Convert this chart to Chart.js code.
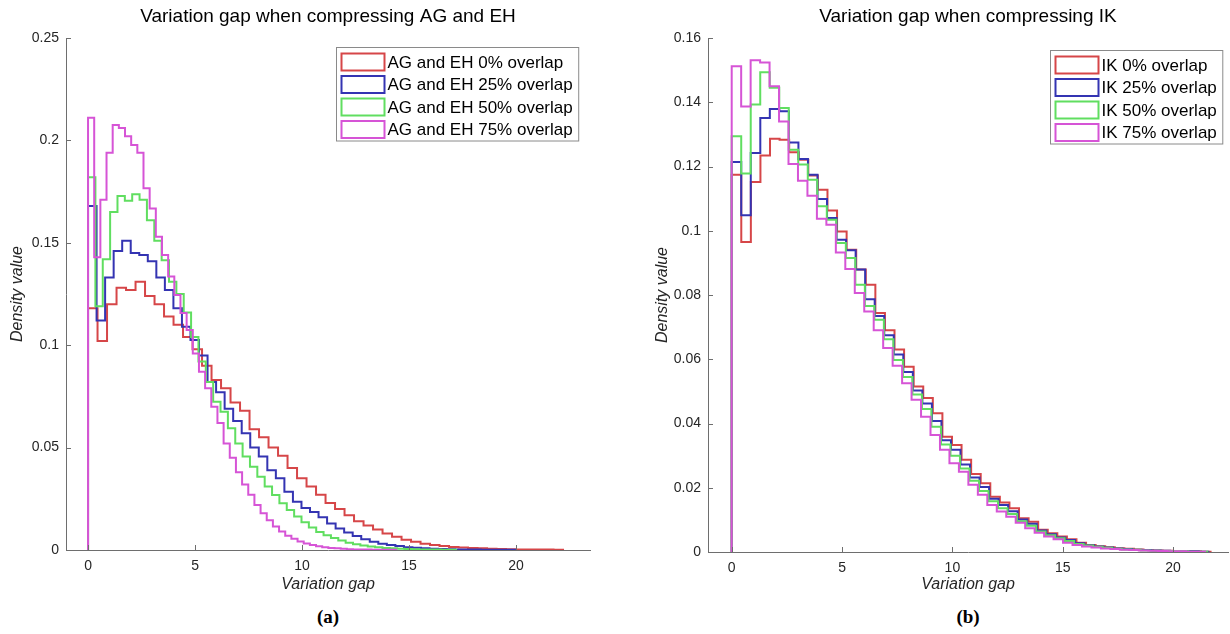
<!DOCTYPE html>
<html><head><meta charset="utf-8">
<script src="https://cdn.jsdelivr.net/npm/chart.js@4.4.1/dist/chart.umd.min.js"></script>
<style>
body{margin:0;background:#fff;width:1230px;height:634px;position:relative;overflow:hidden}
canvas{position:absolute;top:0}
#ca{left:0}
#cb{left:615px}
.sub{position:absolute;top:606px;width:100px;text-align:center;font:bold 19px 'Liberation Serif','Times New Roman',serif;color:#000}
</style>
</head><body>
<canvas id="ca" width="615" height="600"></canvas>
<canvas id="cb" width="615" height="600"></canvas>
<div class="sub" style="left:278px">(a)</div>
<div class="sub" style="left:918px">(b)</div>
<script>
// ---------- data ----------
const xTicks = [0, 5, 10, 15, 20];
const agYTicks = [0, 0.05, 0.1, 0.15, 0.2, 0.25];
const ikYTicks = [0, 0.02, 0.04, 0.06, 0.08, 0.1, 0.12, 0.14, 0.16];

const agLabels = ['AG and EH 0% overlap', 'AG and EH 25% overlap', 'AG and EH 50% overlap', 'AG and EH 75% overlap'];
const ikLabels = ['IK 0% overlap', 'IK 25% overlap', 'IK 50% overlap', 'IK 75% overlap'];

// upper end of the 50 histogram bins of each series (bins start at 0)
const agMaxGap = [22.2, 19.95, 17.2, 14.4];
const ikMaxGap = [21.7, 21.6, 21.55, 21.45];

const agRed = [0.118,0.102,0.120,0.128,0.127,0.131,0.124,0.120,0.114,0.110,
  0.104,0.098,0.090,0.083,0.079,0.072,0.068,0.059,0.055,0.050,
  0.046,0.040,0.035,0.031,0.027,0.023,0.020,0.017,0.014,0.012,
  0.010,0.008,0.0065,0.005,0.004,0.003,0.0025,0.002,0.0015,0.0012,
  0.001,0.0008,0.0006,0.0005,0.0004,0.0003,0.0003,0.0002,0.0002,0.0001];
const agBlue = [0.168,0.112,0.133,0.146,0.151,0.145,0.144,0.141,0.133,0.127,
  0.118,0.109,0.1025,0.095,0.082,0.077,0.069,0.063,0.057,0.050,
  0.0456,0.039,0.035,0.0285,0.0236,0.0205,0.0185,0.016,0.013,0.0105,
  0.0085,0.0068,0.0052,0.004,0.0031,0.0024,0.0019,0.0014,0.0011,0.0008,
  0.0006,0.0005,0.0004,0.0003,0.0002,0.0002,0.0001,0.0001,0.0001,0.0001];
const agGreen = [0.182,0.119,0.142,0.165,0.1728,0.1705,0.1737,0.171,0.161,0.151,
  0.1415,0.131,0.125,0.116,0.104,0.092,0.082,0.0724,0.0675,0.0594,
  0.052,0.0456,0.0407,0.0358,0.031,0.0269,0.0228,0.0195,0.0163,0.0135,
  0.011,0.0088,0.0072,0.0058,0.0046,0.0036,0.0028,0.0022,0.0017,0.0013,
  0.001,0.0008,0.0006,0.0005,0.0004,0.0003,0.0002,0.0002,0.0001,0.0001];
const agMagenta = [0.211,0.143,0.171,0.194,0.2075,0.206,0.202,0.1977,0.194,0.1766,
  0.1668,0.153,0.144,0.1335,0.1245,0.1157,0.1074,0.096,0.087,0.079,
  0.070,0.062,0.052,0.045,0.038,0.032,0.027,0.022,0.018,0.0145,
  0.0115,0.009,0.007,0.0055,0.0042,0.0032,0.0024,0.0018,0.0014,0.001,
  0.0008,0.0006,0.0004,0.0003,0.0002,0.0002,0.0001,0.0001,0.0001,0.0001];

const ikRed = [0.1174,0.0965,0.1152,0.1234,0.1286,0.1283,0.1244,0.1221,0.1172,0.1128,
  0.1063,0.0998,0.0941,0.0879,0.0832,0.0744,0.069,0.063,0.0577,0.0515,
  0.0479,0.0432,0.0359,0.0333,0.0287,0.0243,0.0214,0.0172,0.0154,0.0136,
  0.0105,0.0094,0.0069,0.0058,0.0048,0.004,0.0029,0.0022,0.0018,0.0015,
  0.0012,0.001,0.0008,0.0006,0.0005,0.0004,0.0003,0.0002,0.0002,0.0001];
const ikBlue = [0.1214,0.1048,0.1242,0.1351,0.1379,0.1372,0.1275,0.1223,0.1174,0.1099,
  0.104,0.0972,0.0939,0.0879,0.0787,0.0735,0.0675,0.0615,0.056,0.0503,
  0.0462,0.0408,0.0348,0.0318,0.0272,0.0232,0.0202,0.0166,0.0146,0.0127,
  0.0101,0.0088,0.0067,0.0055,0.0045,0.0037,0.0027,0.0021,0.0017,0.0014,
  0.0011,0.0009,0.0007,0.0006,0.0005,0.0004,0.0003,0.0002,0.0002,0.0001];
const ikGreen = [0.1294,0.1178,0.1393,0.1493,0.1445,0.1382,0.1252,0.1206,0.1159,0.1076,
  0.1034,0.0962,0.0915,0.0832,0.0766,0.0723,0.0662,0.0598,0.0545,0.049,
  0.0445,0.039,0.0335,0.030,0.026,0.0222,0.019,0.0158,0.0136,0.0118,
  0.0096,0.0082,0.0064,0.0052,0.0043,0.0034,0.0025,0.002,0.0016,0.0013,
  0.001,0.0008,0.0007,0.0005,0.0004,0.0003,0.0003,0.0002,0.0001,0.0001];
const ikMagenta = [0.1512,0.1387,0.1531,0.1524,0.145,0.134,0.1208,0.1156,0.1109,0.1037,
  0.1019,0.0932,0.0881,0.0806,0.0749,0.069,0.0635,0.058,0.0525,0.0474,
  0.0421,0.0364,0.0318,0.0276,0.025,0.0209,0.0178,0.0146,0.0126,0.011,
  0.0091,0.0074,0.006,0.0048,0.004,0.0029,0.0022,0.0017,0.0014,0.0011,
  0.0009,0.0007,0.0006,0.0005,0.0004,0.0003,0.0002,0.0002,0.0001,0.0001];

// ---------- rendering ----------
const colors = ['rgb(214,70,72)', 'rgb(52,52,178)', 'rgb(96,222,96)', 'rgb(214,84,214)'];
Chart.defaults.font.family = "'Liberation Sans', Arial, Helvetica, sans-serif";
Chart.defaults.color = '#262626';

function stairs(values, maxGap) {
  const w = maxGap / values.length;
  const pts = [{x: 0, y: 0}];
  values.forEach((v, k) => pts.push({x: (k + 1) * w, y: v}));
  pts.push({x: values.length * w, y: 0});
  return pts;
}

function makeChart(id, cfg) {
  const datasets = cfg.series.map((vals, i) => ({
    label: cfg.labels[i],
    data: stairs(vals, cfg.maxGap[i]),
    borderColor: colors[i],
    backgroundColor: colors[i],
    borderWidth: 2,
    pointRadius: 0,
    stepped: 'after',
    fill: false,
    order: 4 - i
  }));
  const decor = {
    id: 'decor' + id,
    afterDraw(chart) {
      const ctx = chart.ctx, a = chart.chartArea;
      const xs = chart.scales.x, ys = chart.scales.y;
      ctx.save();
      // inward ticks
      ctx.strokeStyle = '#6e6e6e'; ctx.lineWidth = 1;
      ctx.beginPath();
      xs.ticks.forEach(t => { const p = Math.round(xs.getPixelForValue(t.value)) + 0.5; ctx.moveTo(p, a.bottom); ctx.lineTo(p, a.bottom - 5); });
      ys.ticks.forEach(t => { const p = Math.round(ys.getPixelForValue(t.value)) + 0.5; ctx.moveTo(a.left, p); ctx.lineTo(a.left + 5, p); });
      ctx.stroke();
      // title
      ctx.fillStyle = '#000';
      ctx.font = "19px 'Liberation Sans', Arial, sans-serif";
      ctx.textAlign = 'center'; ctx.textBaseline = 'middle';
      ctx.fillText(cfg.title, (a.left + a.right) / 2, 17);
      // legend
      ctx.font = "17px 'Liberation Sans', Arial, sans-serif";
      const ds = chart.data.datasets;
      let tw = 0; ds.forEach(d => tw = Math.max(tw, ctx.measureText(d.label).width));
      const sw = 43, sh = 17, row = 22.5;
      const boxW = 5 + sw + 3 + tw + 6;
      const boxH = 6 + row * (ds.length - 1) + sh + 3;
      const bx = Math.round(a.right - cfg.legendRight - boxW) + 0.5;
      const by = Math.round(a.top + cfg.legendTop) + 0.5;
      ctx.fillStyle = '#fff'; ctx.fillRect(bx, by, boxW, boxH);
      ctx.strokeStyle = '#8a8a8a'; ctx.lineWidth = 1; ctx.strokeRect(bx, by, boxW, boxH);
      ds.forEach((d, i) => {
        const sy = by + 6 + row * i;
        ctx.strokeStyle = d.borderColor; ctx.lineWidth = 2;
        ctx.strokeRect(bx + 5, sy, sw, sh);
        ctx.fillStyle = '#000'; ctx.textAlign = 'left'; ctx.textBaseline = 'middle';
        ctx.fillText(d.label, bx + 5 + sw + 3, sy + sh / 2 + 1);
      });
      ctx.restore();
    }
  };
  return new Chart(document.getElementById(id), {
    type: 'line',
    data: {datasets},
    plugins: [decor],
    options: {
      responsive: false, animation: false, devicePixelRatio: 1,
      layout: {padding: {left: cfg.padLeft, right: cfg.padRight, top: 38, bottom: 0}},
      plugins: {legend: {display: false}, tooltip: {enabled: false}, title: {display: false}},
      scales: {
        x: {
          type: 'linear', min: cfg.xMin, max: cfg.xMax,
          afterBuildTicks: s => { s.ticks = xTicks.map(v => ({value: v})); },
          afterFit: s => { s.height = cfg.xHeight; },
          grid: {display: false, drawTicks: false},
          border: {display: true, color: '#6e6e6e', width: 1},
          ticks: {padding: 8, font: {size: 14}, color: '#262626', callback: v => String(v)},
          title: {display: true, text: 'Variation gap', color: '#262626', font: {size: 16, style: 'italic'}, padding: {top: 0, bottom: 6}}
        },
        y: {
          type: 'linear', min: 0, max: cfg.yMax,
          afterBuildTicks: s => { s.ticks = cfg.yTicks.map(v => ({value: v})); },
          afterFit: s => { s.width = cfg.yWidth; },
          grid: {display: false, drawTicks: false},
          border: {display: true, color: '#6e6e6e', width: 1},
          ticks: {padding: 7, font: {size: 14}, color: '#262626', callback: v => String(v)},
          title: {display: true, text: 'Density value', color: '#262626', font: {size: 16, style: 'italic'}, padding: {top: 8, bottom: 0}}
        }
      }
    }
  });
}

makeChart('ca', {
  title: 'Variation gap when compressing AG and EH',
  labels: agLabels, series: [agRed, agBlue, agGreen, agMagenta], maxGap: agMaxGap,
  yTicks: agYTicks, yMax: 0.25, xMin: -1.03, xMax: 23.46,
  padLeft: 0, padRight: 25, yWidth: 66, xHeight: 50,
  legendRight: 12, legendTop: 9
});
makeChart('cb', {
  title: 'Variation gap when compressing IK',
  labels: ikLabels, series: [ikRed, ikBlue, ikGreen, ikMagenta], maxGap: ikMaxGap,
  yTicks: ikYTicks, yMax: 0.16, xMin: -1.074, xMax: 22.49,
  padLeft: 30, padRight: 2, yWidth: 63, xHeight: 48,
  legendRight: 6, legendTop: 12
});
</script>
</body></html>
